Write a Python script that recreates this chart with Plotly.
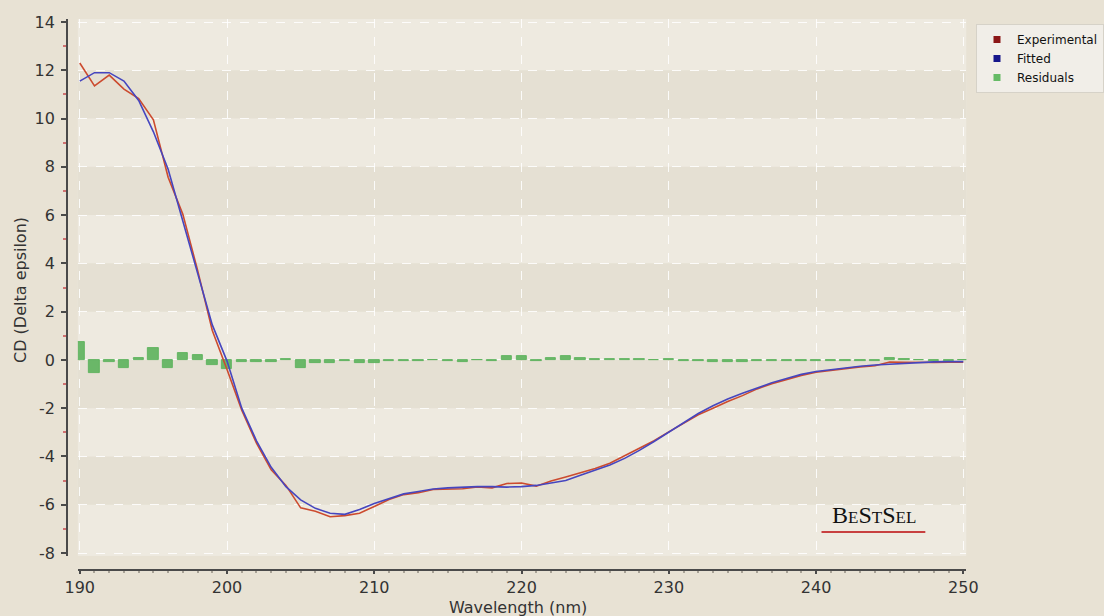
import plotly.graph_objects as go

# ---------------- data ----------------
wavelength = list(range(190, 251))

experimental = [
    12.30, 11.35, 11.80, 11.22, 10.83, 9.95, 7.57, 6.03, 3.72, 1.22,
    -0.40, -2.08, -3.45, -4.55, -5.20, -6.13, -6.27, -6.50, -6.45, -6.35,
    -6.07, -5.78, -5.58, -5.50, -5.37, -5.35, -5.34, -5.26, -5.30, -5.12,
    -5.10, -5.23, -5.02, -4.85, -4.68, -4.50, -4.28, -3.98, -3.68, -3.35,
    -2.98, -2.63, -2.27, -2.00, -1.72, -1.48, -1.20, -0.99, -0.80, -0.64,
    -0.51, -0.43, -0.37, -0.29, -0.24, -0.09, -0.10, -0.12, -0.11, -0.10,
    -0.09,
]

fitted = [
    11.55, 11.90, 11.90, 11.55, 10.75, 9.45, 7.90, 5.75, 3.50, 1.45,
    -0.05, -2.00, -3.35, -4.45, -5.25, -5.80, -6.15, -6.35, -6.40, -6.20,
    -5.95, -5.75, -5.55, -5.45, -5.35, -5.30, -5.27, -5.25, -5.25, -5.27,
    -5.25, -5.20, -5.10, -5.00, -4.78, -4.58, -4.35, -4.08, -3.75, -3.38,
    -3.00, -2.60, -2.22, -1.90, -1.62, -1.38, -1.15, -0.95, -0.77, -0.60,
    -0.48, -0.40, -0.33, -0.26, -0.21, -0.17, -0.13, -0.10, -0.08, -0.07,
    -0.07,
]

residuals = [
    0.75, -0.55, -0.10, -0.33, 0.08, 0.50, -0.33, 0.28, 0.22, -0.23,
    -0.37, -0.08, -0.10, -0.10, 0.05, -0.33, -0.12, -0.15, -0.05, -0.15,
    -0.12, -0.03, -0.03, -0.05, -0.02, -0.05, -0.07, -0.01, -0.05, 0.15,
    0.15, -0.03, 0.08, 0.15, 0.07, 0.05, 0.05, 0.03, 0.02, 0.00,
    0.02, -0.03, -0.05, -0.10, -0.10, -0.10, -0.05, -0.04, -0.03, -0.04,
    -0.03, -0.03, -0.04, -0.03, -0.03, 0.08, 0.03, -0.02, -0.03, -0.03,
    -0.02,
]

y_tickvals = list(range(-8, 15, 2))
y_ticktext = [str(v) for v in y_tickvals]
x_tickvals = list(range(190, 251, 10))
x_ticktext = [str(v) for v in x_tickvals]

legend_names = ["Experimental", "Fitted", "Residuals"]
legend_colors = ["#8b1616", "#16168b", "#66bb66"]

# ---------------- figure ----------------
W, H = 1104, 616
PAPER = "#e8e2d4"


def px_x(p):
    return p / W


def px_y(p):
    return 1 - p / H


FONT = "DejaVu Sans"
TXT = "#333333"
AXC = "#4a4a4a"

fig = go.Figure()

fig.add_trace(go.Bar(
    x=wavelength, y=residuals, width=0.7, name="Residuals",
    marker=dict(color="rgba(92,178,92,0.9)",
                line=dict(color="rgba(92,178,92,0.9)", width=1)),
    showlegend=False, hoverinfo="x+y",
))
fig.add_trace(go.Scatter(
    x=wavelength, y=experimental, mode="lines", name="Experimental",
    line=dict(color="#cc4b2f", width=1.6), showlegend=False,
))
fig.add_trace(go.Scatter(
    x=wavelength, y=fitted, mode="lines", name="Fitted",
    line=dict(color="#4646bf", width=1.6), showlegend=False,
))
for name, col in zip(legend_names, legend_colors):
    fig.add_trace(go.Scatter(
        x=[None], y=[None], mode="markers", name=name,
        marker=dict(symbol="square", size=7, color=col),
    ))

# alternating horizontal bands in the plot area
shapes = []
for k in y_tickvals[:-1]:
    if (k // 2) % 2 == 1:
        shapes.append(dict(
            type="rect", xref="x domain", x0=0, x1=1, yref="y", y0=k, y1=k + 2,
            fillcolor="#e5e0d3", line=dict(width=0), layer="below",
        ))
# logo underline
shapes.append(dict(
    type="line", xref="paper", yref="paper",
    x0=px_x(823), x1=px_x(927), y0=px_y(532), y1=px_y(532),
    line=dict(color="#c84040", width=2),
))

fig.update_layout(
    template="none",
    width=W, height=H,
    margin=dict(l=0, r=0, t=0, b=0, pad=0),
    paper_bgcolor=PAPER,
    plot_bgcolor="#eeeae0",
    bargap=0,
    shapes=shapes,
    font=dict(family=FONT, color=TXT),
    xaxis=dict(
        domain=[px_x(78), px_x(968)], range=[189.87, 250.2],
        anchor="free", position=px_y(570), automargin=False,
        showline=True, linecolor=AXC, linewidth=1.5,
        ticks="outside", ticklen=3, tickcolor=AXC, tickwidth=1.5,
        tickmode="array", tickvals=x_tickvals, ticktext=x_ticktext,
        tickfont=dict(size=16, family=FONT, color=TXT),
        showgrid=True, gridcolor="rgba(255,255,255,0.85)", griddash="dash", gridwidth=1,
        zeroline=False,
        minor=dict(ticks="outside", ticklen=2, tickcolor="#a8a296", dtick=1, tick0=190,
                   showgrid=False),
    ),
    yaxis=dict(
        domain=[px_y(555.9), px_y(19.1)], range=[-8.12, 14.12],
        anchor="free", position=px_x(67), automargin=False,
        showline=True, linecolor=AXC, linewidth=1.5,
        ticks="outside", ticklen=5, tickcolor=AXC, tickwidth=1.5,
        tickmode="array", tickvals=y_tickvals, ticktext=y_ticktext,
        tickfont=dict(size=16, family=FONT, color=TXT),
        ticklabelstandoff=3,
        showgrid=True, gridcolor="rgba(255,255,255,0.85)", griddash="dash", gridwidth=1,
        zeroline=False,
        minor=dict(ticks="outside", ticklen=3, tickcolor="#d07070", dtick=1, tick0=-8,
                   showgrid=False),
    ),
    legend=dict(
        x=px_x(978), y=px_y(24), xanchor="left", yanchor="top",
        bgcolor="#f1eee8", bordercolor="#d6d2c8", borderwidth=1,
        font=dict(size=12, family=FONT, color="#111111"),
        tracegroupgap=0,
    ),
    annotations=[
        dict(text="CD (Delta epsilon)", xref="paper", yref="paper",
             x=px_x(20), y=px_y(290), textangle=-90, showarrow=False,
             xanchor="center", yanchor="middle",
             font=dict(size=16, family=FONT, color=TXT)),
        dict(text="Wavelength (nm)", xref="paper", yref="paper",
             x=px_x(519), y=px_y(607), showarrow=False,
             xanchor="center", yanchor="middle",
             font=dict(size=16, family=FONT, color=TXT)),
        dict(text=("B<span style='font-size:17px'>E</span>S"
                   "<span style='font-size:17px'>T</span>S"
                   "<span style='font-size:17px'>EL</span>"),
             xref="paper", yref="paper", x=px_x(876), y=px_y(515),
             showarrow=False, xanchor="center", yanchor="middle",
             font=dict(size=24, family="Liberation Serif", color="#111111")),
    ],
)

fig.write_html(
    "out.html",
    config={"displayModeBar": False},
    post_script=(
        "document.body.style.margin='0';"
        "document.body.style.padding='0';"
        "document.body.style.overflow='hidden';"
        "document.body.style.background='" + PAPER + "';"
    ),
)
